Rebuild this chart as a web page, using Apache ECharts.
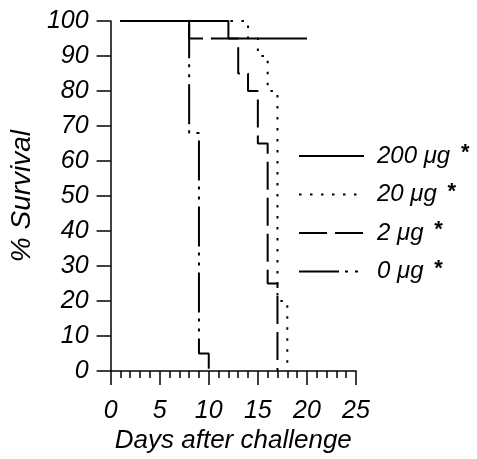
<!DOCTYPE html>
<html>
<head>
<meta charset="utf-8">
<script src="https://cdn.jsdelivr.net/npm/echarts@6/dist/echarts.min.js"></script>
<style>
  html, body { margin: 0; padding: 0; background: #fff; }
  #chart { width: 477px; height: 459px; }
</style>
</head>
<body>
<div id="chart"></div>
<script>
// survival curves (day, % survival after that day)
const days200 = [1, 12, 20]
const surv200 = [100, 95, 95]
const days20 = [1, 14, 15, 16, 17, 18]
const surv20 = [100, 95, 90, 80, 20, 0]
const days2 = [1, 8, 13, 14, 15, 16, 17]
const surv2 = [100, 95, 85, 80, 65, 25, 0]
const days0 = [1, 8, 9, 10]
const surv0 = [100, 68, 5, 0]
const groupNames = ['200 μg *', '20 μg *', '2 μg *', '0 μg *']

const font = 'Liberation Sans'

function pairs(xs, ys) {
  return xs.map((x, i) => [x, ys[i]])
}

function stepSeries(name, xs, ys, dash) {
  return {
    name: name,
    type: 'line',
    step: 'end',
    symbol: 'none',
    data: pairs(xs, ys),
    lineStyle: { color: '#000', width: 2, type: dash },
    itemStyle: { color: '#000' }
  }
}

// italic text, the scan looks like a plain italic sans
function txt(size) {
  return { fontSize: size, fontStyle: 'italic', fontWeight: 'normal', fontFamily: font, color: '#000' }
}

const chart = echarts.init(document.getElementById('chart'))
chart.setOption({
  animation: false,
  backgroundColor: '#fff',
  textStyle: { fontFamily: font, fontStyle: 'italic', color: '#000' },
  grid: { left: 100, right: 121, top: 21, bottom: 85 },
  legend: {
    orient: 'vertical',
    left: 293,
    top: 137,
    itemWidth: 65,
    itemHeight: 24,
    itemGap: 12.5,
    data: groupNames,
    itemStyle: { opacity: 0 },
    formatter: name => name.replace(' *', ' {s|*}'),
    textStyle: Object.assign(txt(24), {
      padding: [0, 0, 0, 8],
      rich: { s: { fontSize: 22, fontWeight: 'bold', fontStyle: 'normal', fontFamily: font, padding: [0, 0, 6, 4] } }
    })
  },
  xAxis: {
    type: 'value',
    min: 0,
    max: 25,
    interval: 5,
    name: 'Days after challenge',
    nameLocation: 'middle',
    nameGap: 48,
    nameTextStyle: txt(26),
    axisLine: { lineStyle: { color: '#000', width: 1.5 } },
    axisTick: { length: 14, lineStyle: { color: '#000', width: 1.5 } },
    minorTick: { show: true, splitNumber: 5, length: 7, lineStyle: { color: '#000', width: 1.5 } },
    axisLabel: Object.assign(txt(25), { margin: 27 }),
    splitLine: { show: false }
  },
  yAxis: {
    type: 'value',
    min: 0,
    max: 100,
    interval: 10,
    name: '% Survival',
    nameLocation: 'middle',
    nameGap: 58,
    nameTextStyle: txt(28),
    axisLine: { show: true, lineStyle: { color: '#000', width: 1.5 } },
    axisTick: { show: true, length: 14, lineStyle: { color: '#000', width: 1.5 } },
    axisLabel: Object.assign(txt(25), { margin: 22 }),
    splitLine: { show: false }
  },
  series: [
    stepSeries(groupNames[3], days0, surv0, [40, 6, 3, 7, 3, 7]),
    stepSeries(groupNames[2], days2, surv2, [28, 8]),
    stepSeries(groupNames[1], days20, surv20, [2.5, 8.5]),
    stepSeries(groupNames[0], days200, surv200, 'solid')
  ]
})
</script>
</body>
</html>
